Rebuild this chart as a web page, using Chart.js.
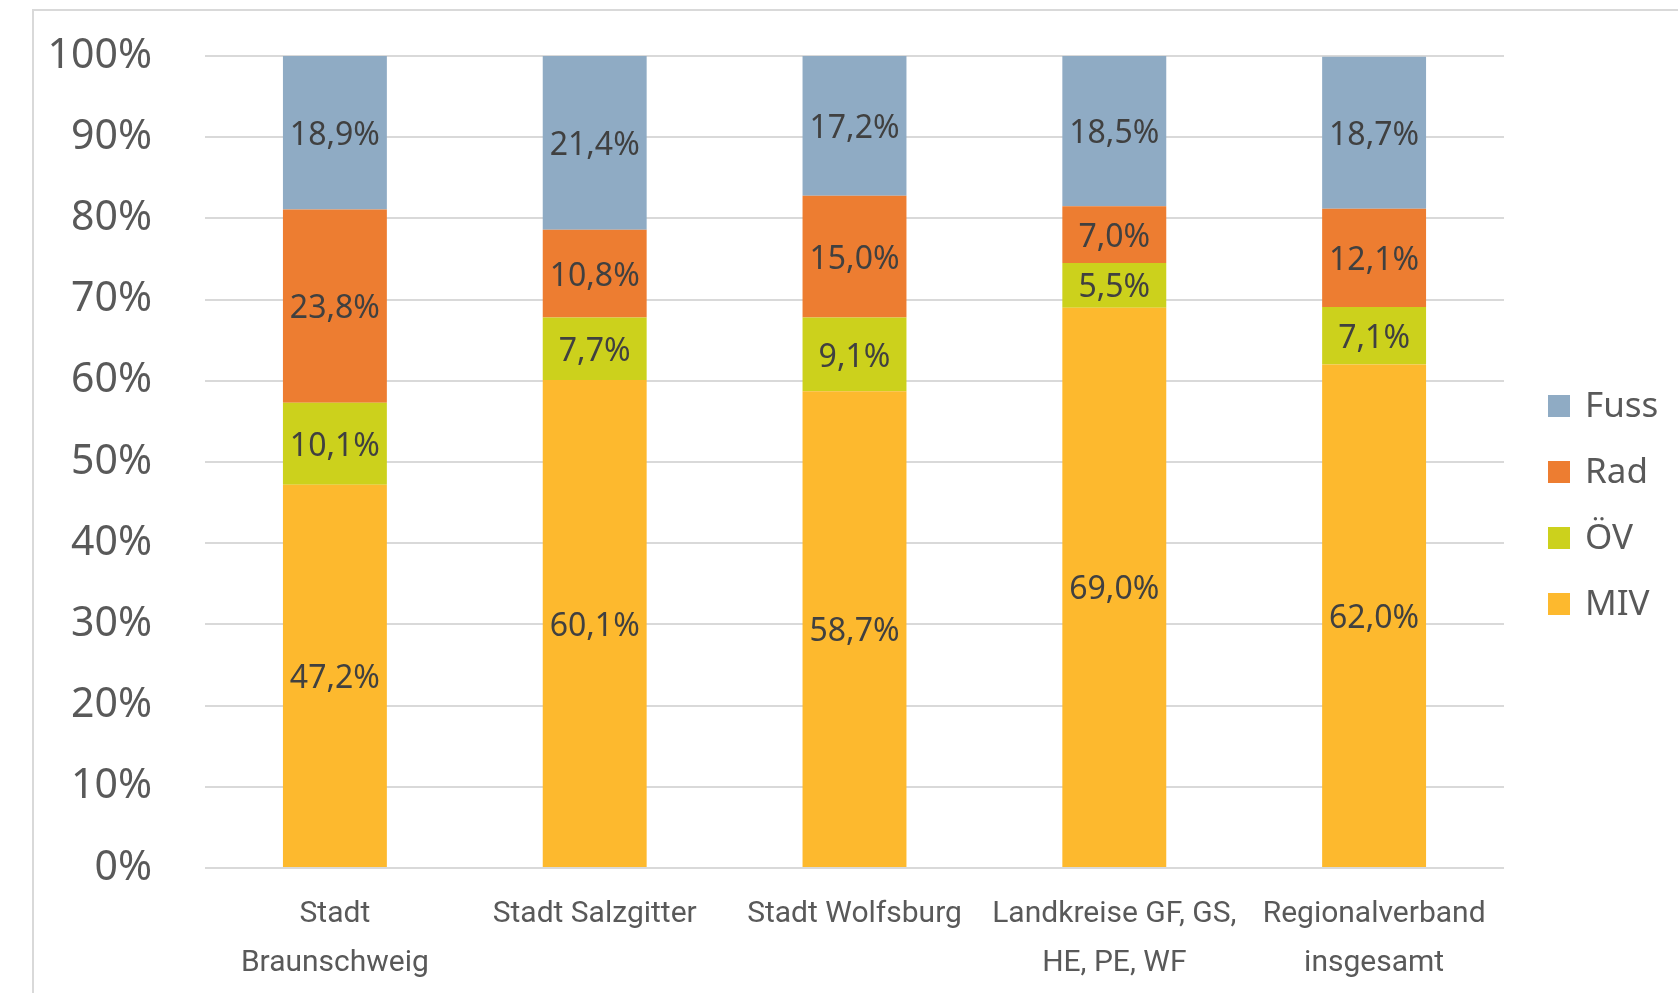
<!DOCTYPE html>
<html>
<head>
<meta charset="utf-8">
<script src="https://cdn.jsdelivr.net/npm/chart.js@4"></script>
<style>
  html, body { margin: 0; padding: 0; background: #fff; overflow: hidden; }
  #wrap { position: relative; width: 1678px; height: 993px; }
  #frame { position: absolute; left: 32px; top: 9px; width: 1700px; height: 1000px;
           border-left: 2px solid #d9d9d9; border-top: 2px solid #d9d9d9; }
  canvas { position: absolute; left: 0; top: 0; }
</style>
</head>
<body>
<div id="wrap">
  <div id="frame"></div>
  <canvas id="chart" width="1678" height="993"></canvas>
</div>
<script>
/* Modal split per region (shares in %) */
var categories = [['Stadt', 'Braunschweig'], 'Stadt Salzgitter', 'Stadt Wolfsburg', ['Landkreise GF, GS,', 'HE, PE, WF'], ['Regionalverband', 'insgesamt']];
var miv  = [47.2, 60.1, 58.7, 69.0, 62.0];
var oev  = [10.1, 7.7, 9.1, 5.5, 7.1];
var rad  = [23.8, 10.8, 15.0, 7.0, 12.1];
var fuss = [18.9, 21.4, 17.2, 18.5, 18.7];
var yTicks = [0, 10, 20, 30, 40, 50, 60, 70, 80, 90, 100];

var COL = { miv: '#FDB92E', oev: '#CCD11C', rad: '#ED7D31', fuss: '#8FABC4' };

function pct(v) { return v.toFixed(1).replace('.', ',') + '%'; }

/* value labels centred in each segment */
var segLabels = {
  id: 'segLabels',
  afterDatasetsDraw: function (chart) {
    var ctx = chart.ctx;
    ctx.save();
    ctx.font = '32px "Noto Sans", "Open Sans", sans-serif';
    ctx.fillStyle = '#404040';
    ctx.textAlign = 'center';
    ctx.textBaseline = 'middle';
    chart.data.datasets.forEach(function (ds, i) {
      chart.getDatasetMeta(i).data.forEach(function (bar, j) {
        var c = bar.getCenterPoint();
        ctx.fillText(pct(ds.data[j]), c.x, c.y + 3);
      });
    });
    ctx.restore();
  }
};

/* legend on the right, top series first */
var sideLegend = {
  id: 'sideLegend',
  afterDraw: function (chart) {
    var ctx = chart.ctx;
    var x = 1548, y0 = 406, step = 66, box = 22;
    ctx.save();
    ctx.font = '35px "Noto Sans", "Open Sans", sans-serif';
    ctx.textBaseline = 'middle';
    ctx.textAlign = 'left';
    var list = chart.data.datasets.slice().reverse();
    list.forEach(function (ds, k) {
      var y = y0 + k * step;
      ctx.fillStyle = ds.backgroundColor;
      ctx.fillRect(x, y - box / 2, box, box);
      ctx.fillStyle = '#595959';
      ctx.fillText(ds.label, x + box + 15, y + 1);
    });
    ctx.restore();
  }
};

new Chart(document.getElementById('chart'), {
  type: 'bar',
  data: {
    labels: categories,
    datasets: [
      { label: 'MIV', data: miv, backgroundColor: COL.miv },
      { label: 'ÖV', data: oev, backgroundColor: COL.oev },
      { label: 'Rad', data: rad, backgroundColor: COL.rad },
      { label: 'Fuss', data: fuss, backgroundColor: COL.fuss }
    ]
  },
  options: {
    responsive: false,
    animation: false,
    devicePixelRatio: 1,
    datasets: { bar: { categoryPercentage: 0.4, barPercentage: 1.0, borderWidth: 0 } },
    layout: { padding: { top: 56, right: 174, bottom: 0, left: 0 } },
    plugins: { legend: { display: false }, tooltip: { enabled: false } },
    scales: {
      x: {
        stacked: true,
        grid: { display: false, drawTicks: false },
        border: { display: false },
        ticks: { color: '#595959', padding: 22, font: { family: '"Liberation Sans Narrow", Roboto, sans-serif', size: 30, lineHeight: 1.63 }, maxRotation: 0 },
        afterFit: function (s) { s.height = 993 - 868; }
      },
      y: {
        stacked: true,
        min: 0, max: 100,
        afterBuildTicks: function (s) { s.ticks = yTicks.map(function (v) { return { value: v }; }); },
        grid: { color: '#d9d9d9', lineWidth: 2, drawTicks: false },
        border: { display: false },
        ticks: { color: '#595959', padding: 53, font: { family: '"Noto Sans", "Open Sans", sans-serif', size: 41 },
                 callback: function (v) { return v + '%'; } },
        afterFit: function (s) { s.width = 205; s.paddingTop = 0; s.paddingBottom = 0; }
      }
    }
  },
  plugins: [segLabels, sideLegend]
});
</script>
</body>
</html>
